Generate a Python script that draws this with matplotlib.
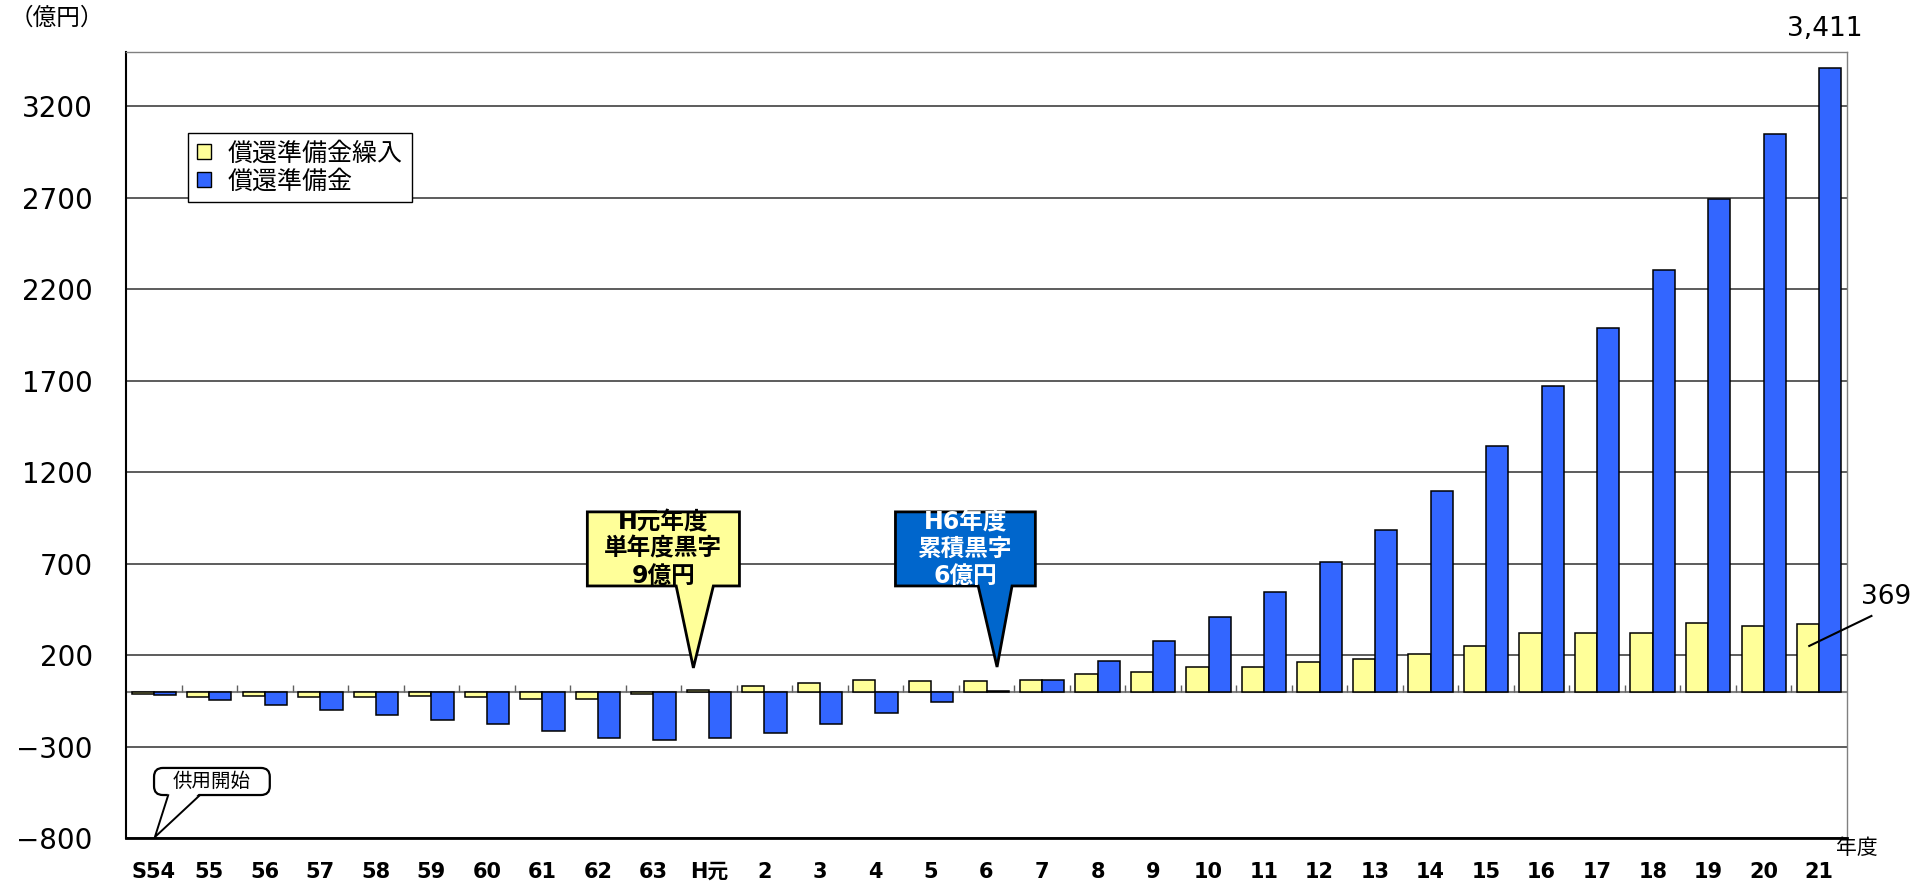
import numpy as np
import matplotlib
matplotlib.use("Agg")
import matplotlib.pyplot as plt
from matplotlib.patches import Patch, Polygon, FancyBboxPatch

plt.rcParams['font.family'] = ['DejaVu Sans', 'Noto Sans CJK JP']

categories = ['S54', '55', '56', '57', '58', '59', '60', '61', '62', '63', 'H元',
              '2', '3', '4', '5', '6', '7', '8', '9', '10', '11', '12', '13', '14',
              '15', '16', '17', '18', '19', '20', '21']
transfer = [-14, -30, -26, -27, -31, -25, -31, -40, -40, -15, 9,
            31, 47, 62, 56, 57, 62, 95, 110, 137, 137, 160, 178, 208,
            247, 319, 319, 319, 375, 360, 369]
reserve = [-16, -47, -73, -98, -130, -153, -178, -217, -256, -265, -255,
           -224, -177, -114, -58, 6, 64, 166, 278, 409, 543, 710, 884, 1097,
           1344, 1671, 1990, 2306, 2692, 3048, 3411]
yticks = [-800, -300, 200, 700, 1200, 1700, 2200, 2700, 3200]
legend_labels = ['償還準備金繰入', '償還準備金']

YELLOW = '#FFFF99'
BLUE = '#3366FF'
DARKBLUE = '#0066CC'

W, H = 1921, 883
fig = plt.figure(figsize=(W / 100, H / 100), dpi=100)
ax = fig.add_axes([126 / W, 1 - 838 / H, (1847 - 126) / W, (838 - 51.5) / H])

x = np.arange(len(categories))
bw = 0.4
ax.bar(x - bw / 2, transfer, bw, color=YELLOW, edgecolor='black', linewidth=1.1, zorder=3)
ax.bar(x + bw / 2, reserve, bw, color=BLUE, edgecolor='black', linewidth=1.1, zorder=3)

ax.set_xlim(-0.5, len(categories) - 0.5)
ax.set_ylim(-800, 3500)
ax.set_yticks(yticks)
ax.set_yticklabels([str(v).replace('-', '\u2212') for v in yticks], fontsize=20)
ax.set_xticks(x)
ax.set_xticklabels(categories, fontsize=15, fontweight='bold')
ax.tick_params(axis='both', length=0)
ax.tick_params(axis='y', pad=24)
ax.tick_params(axis='x', pad=17)
ax.yaxis.grid(True, color='#303030', linewidth=1.1)
ax.set_axisbelow(True)

# zero line with small category ticks
ax.axhline(0, color='#808080', linewidth=1.5, zorder=2)
ax.vlines(np.arange(0.5, len(categories) - 0.5, 1), 0, 38, color='#606060', linewidth=1, zorder=2)

for side in ['top', 'right']:
    ax.spines[side].set_color('#808080')
    ax.spines[side].set_linewidth(1.0)
ax.spines['left'].set_color('black')
ax.spines['left'].set_linewidth(1.5)
ax.spines['bottom'].set_color('black')
ax.spines['bottom'].set_linewidth(2)

# legend
handles = [Patch(facecolor=YELLOW, edgecolor='black', linewidth=1),
           Patch(facecolor=BLUE, edgecolor='black', linewidth=1)]
leg = ax.legend(handles, legend_labels, loc='upper left',
                bbox_to_anchor=(188 / W, 1 - 133 / H), bbox_transform=fig.transFigure,
                borderaxespad=0, fontsize=18, handlelength=0.55, handleheight=0.55,
                handletextpad=0.7, borderpad=0.35, labelspacing=0.15,
                fancybox=False, framealpha=1, edgecolor='black')
leg.get_frame().set_linewidth(1.0)


def callout(x0, x1, y0, y1, b0, b1, tip, face, text, tcolor):
    verts = [(x0, y1), (x1, y1), (x1, y0), (b1, y0), tip, (b0, y0), (x0, y0)]
    ax.add_patch(Polygon(verts, closed=True, facecolor=face, edgecolor='black',
                         linewidth=2, zorder=5))
    ax.text((x0 + x1) / 2, (y0 + y1) / 2, text, ha='center', va='center',
            fontsize=17, fontweight='bold', color=tcolor, linespacing=1.15, zorder=6)


callout(7.81, 10.55, 578, 983, 9.41, 10.08, (9.72, 130), YELLOW,
        'H元年度\n単年度黒字\n9億円', 'black')
callout(13.36, 15.88, 578, 983, 14.85, 15.46, (15.19, 135), DARKBLUE,
        'H6年度\n累積黒字\n6億円', 'white')

# 供用開始 speech bubble
box = FancyBboxPatch((0.005, -565), 2.085, 148,
                     boxstyle='round,pad=0,rounding_size=0.16', mutation_aspect=300,
                     facecolor='white', edgecolor='black', linewidth=1.6, zorder=5)
ax.add_patch(box)
ax.add_patch(Polygon([(0.26, -552), (0.02, -795), (0.83, -552)], closed=True,
                     facecolor='white', edgecolor='none', zorder=6))
ax.plot([0.26, 0.02, 0.83], [-566, -795, -566], color='black', linewidth=1.4, zorder=7)
ax.text(1.05, -491, '供用開始', ha='center', va='center', fontsize=14, zorder=7)

# value labels
ax.annotate('3,411', xy=(30.1, reserve[-1]), xytext=(0, 28), textcoords='offset points',
            ha='center', va='center', fontsize=19, annotation_clip=False)
ax.plot([29.82, 30.94], [250, 414], color='black', linewidth=1.5, clip_on=False, zorder=6)
ax.text(31.2, 518, '369', ha='center', va='center', fontsize=19, clip_on=False)

fig.text(10 / W, 1 - 18 / H, '（億円）', ha='left', va='center', fontsize=17)
fig.text(1857 / W, 1 - 848 / H, '年度', ha='center', va='center', fontsize=15)

fig.savefig('out.png', dpi=100)
